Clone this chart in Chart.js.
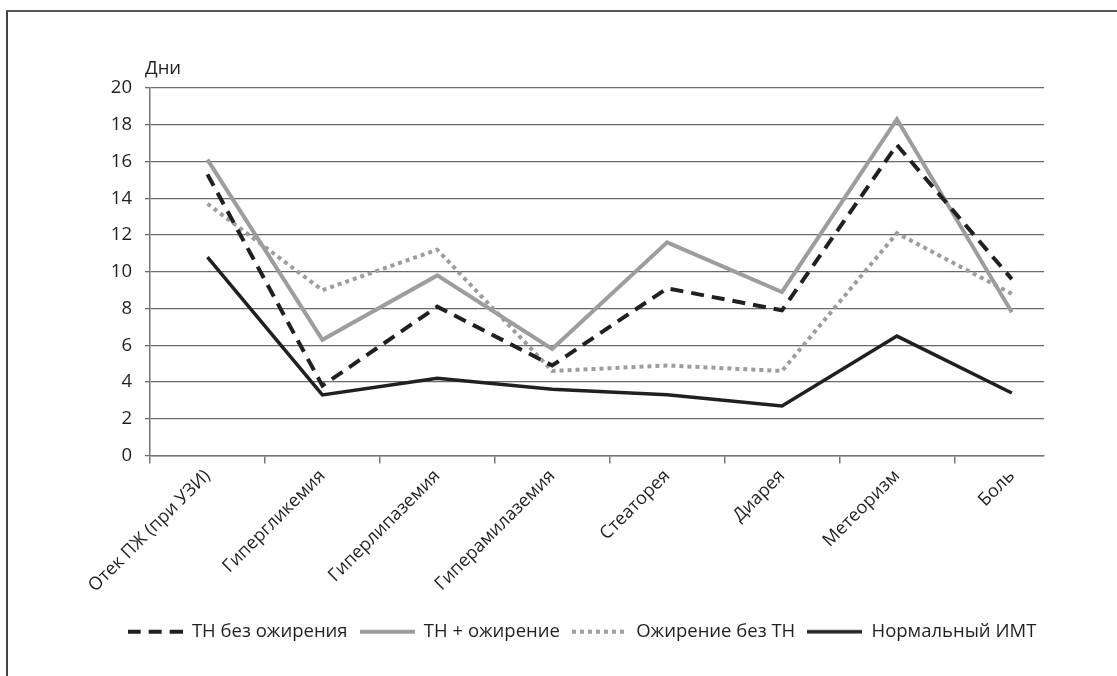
<!DOCTYPE html>
<html>
<head>
<meta charset="utf-8">
<script src="https://cdn.jsdelivr.net/npm/chart.js@4/dist/chart.umd.min.js"></script>
<style>
  html, body { margin: 0; padding: 0; background: #fff; }
  #wrap { position: relative; width: 1117px; height: 676px; overflow: hidden; }
  #frame { position: absolute; left: 6px; top: 10px; right: -10px; bottom: -10px;
           border-top: 2px solid #555; border-left: 2px solid #444; pointer-events: none; }
  canvas { position: absolute; left: 0; top: 0; }
</style>
</head>
<body>
<div id="wrap">
  <canvas id="c" width="1117" height="676"></canvas>
  <div id="frame"></div>
</div>
<script>
const categories = ['Отек ПЖ (при УЗИ)', 'Гипергликемия', 'Гиперлипаземия', 'Гиперамилаземия', 'Стеаторея', 'Диарея', 'Метеоризм', 'Боль'];
const seriesNames = ['ТН без ожирения', 'ТН + ожирение', 'Ожирение без ТН', 'Нормальный ИМТ'];
const thWithoutObesity = [15.3, 3.8, 8.1, 4.9, 9.1, 7.9, 16.9, 9.6];
const thWithObesity    = [16.1, 6.3, 9.8, 5.8, 11.6, 8.9, 18.3, 7.8];
const obesityWithoutTh = [13.7, 9.0, 11.2, 4.6, 4.9, 4.6, 12.1, 8.8];
const normalBmi        = [10.8, 3.3, 4.2, 3.6, 3.3, 2.7, 6.5, 3.4];
const yTicks = [0, 2, 4, 6, 8, 10, 12, 14, 16, 18, 20];
const yTitle = 'Дни';

const toPoints = arr => arr.map((v, i) => ({ x: i, y: v }));
const FONT = '"Open Sans", "Noto Sans", sans-serif';
const INK = '#231f20';
const GRAY = '#9d9d9d';

// legend sample strokes (line style swatches)
function sample(color, lw, dash) {
  const c = document.createElement('canvas');
  c.width = 55; c.height = 8;
  const g = c.getContext('2d');
  g.strokeStyle = color; g.lineWidth = lw; g.setLineDash(dash); g.lineCap = 'butt';
  g.beginPath(); g.moveTo(0, 4); g.lineTo(55, 4); g.stroke();
  return c;
}

const titlePlugin = {
  id: 'yTitle',
  afterLayout(chart) {
    // centre the legend row under the whole figure rather than the plot
    const lg = chart.legend;
    if (lg) { lg.left += 37; lg.right += 37; }
  },
  afterDraw(chart) {
    const ctx = chart.ctx;
    const a = chart.chartArea;
    ctx.save();
    ctx.font = '18.5px ' + FONT;
    ctx.fillStyle = INK;
    ctx.textAlign = 'left';
    ctx.textBaseline = 'alphabetic';
    ctx.fillText(yTitle, a.left - 5, a.top - 14);
    ctx.restore();
  }
};

new Chart(document.getElementById('c'), {
  type: 'line',
  data: {
    datasets: [
      { label: seriesNames[0], data: toPoints(thWithoutObesity), borderColor: INK, borderWidth: 4, borderDash: [13, 8], pointRadius: 0, pointStyle: sample(INK, 4, [13, 8]), tension: 0, fill: false },
      { label: seriesNames[1], data: toPoints(thWithObesity), borderColor: GRAY, borderWidth: 4, pointRadius: 0, pointStyle: sample(GRAY, 4, []), tension: 0, fill: false },
      { label: seriesNames[2], data: toPoints(obesityWithoutTh), borderColor: GRAY, borderWidth: 4, borderDash: [4, 4], pointRadius: 0, pointStyle: sample(GRAY, 4, [4, 4]), tension: 0, fill: false },
      { label: seriesNames[3], data: toPoints(normalBmi), borderColor: INK, borderWidth: 3.5, pointRadius: 0, pointStyle: sample(INK, 3.5, []), tension: 0, fill: false }
    ]
  },
  options: {
    responsive: false,
    animation: false,
    layout: { padding: { top: 88, left: 46, right: 73, bottom: 25 } },
    plugins: {
      tooltip: { enabled: false },
      legend: {
        position: 'bottom',
        labels: {
          usePointStyle: true,
          pointStyleWidth: 55,
          padding: 12,
          color: INK,
          font: { family: FONT, size: 18.5 }
        }
      }
    },
    scales: {
      x: {
        type: 'linear',
        min: -0.5,
        max: 7.28,
        afterBuildTicks: s => { s.ticks = categories.map((c, i) => ({ value: i })); },
        afterFit: s => { s.height = 155; s.paddingLeft = 0; s.paddingRight = 0; },
        ticks: {
          autoSkip: false,
          minRotation: 45,
          maxRotation: 45,
          padding: 2,
          color: INK,
          font: { family: FONT, size: 18 },
          callback: v => categories[v]
        },
        grid: { offset: true, drawOnChartArea: false, drawTicks: true, tickLength: 8, color: '#777', lineWidth: 1.5 },
        border: { color: '#777', width: 1.5 }
      },
      y: {
        min: 0,
        max: 20,
        afterBuildTicks: s => { s.ticks = yTicks.map(v => ({ value: v })); },
        afterFit: s => { s.width = 104; s.paddingTop = 0; s.paddingBottom = 0; },
        ticks: {
          padding: 13,
          color: INK,
          font: { family: FONT, size: 18.5 }
        },
        grid: { color: '#6a6a6a', lineWidth: 1.3, tickLength: 5 },
        border: { color: '#777', width: 1.5 }
      }
    }
  },
  plugins: [titlePlugin]
});
</script>
</body>
</html>
